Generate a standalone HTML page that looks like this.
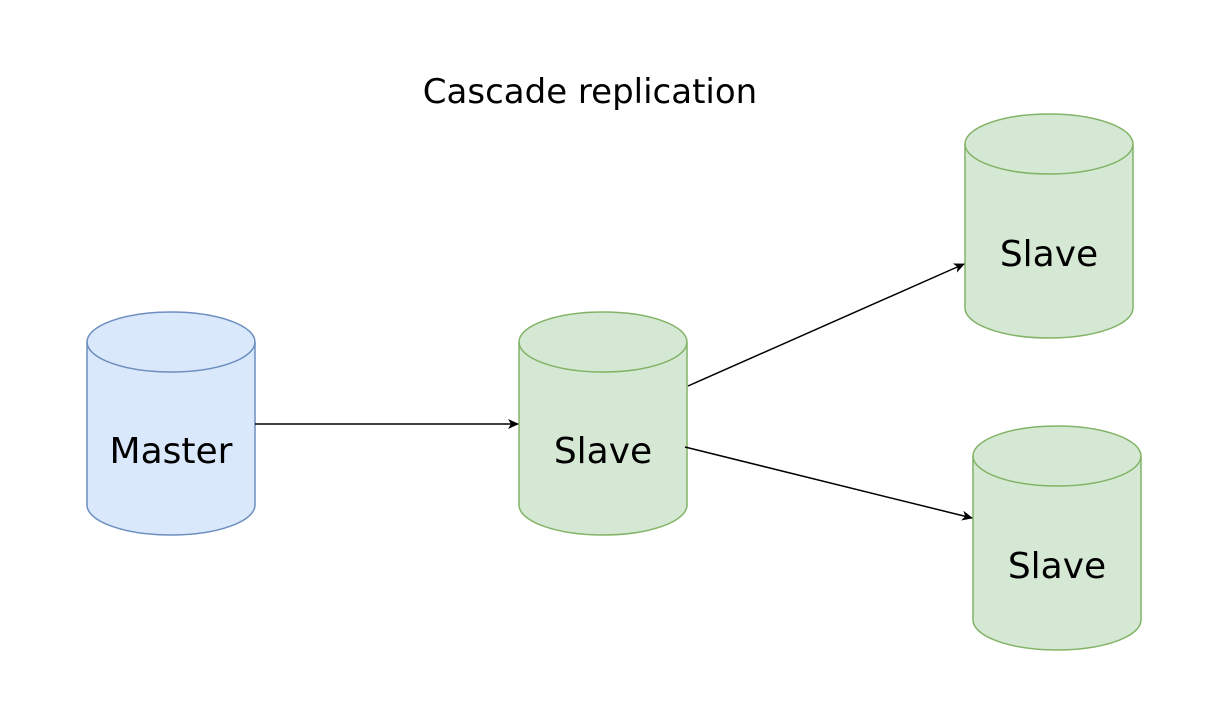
<!DOCTYPE html>
<html><head><meta charset="utf-8"><style>
html,body{margin:0;padding:0;background:#fff;}
svg{display:block;}
text{font-family:"Comic Sans MS","DejaVu Sans","Liberation Sans",sans-serif;fill:#000;}
</style></head><body>
<svg width="1210" height="708" viewBox="0 0 1210 708" xmlns="http://www.w3.org/2000/svg">
<defs>
<marker id="a" markerWidth="12" markerHeight="12" refX="10" refY="6" orient="auto" markerUnits="userSpaceOnUse">
<path d="M0,1 L11,6 L0,11 L3,6 Z" fill="#000"/>
</marker>
</defs>
<rect width="1210" height="708" fill="#fff"/>
<text x="590" y="103" font-size="34" text-anchor="middle">Cascade replication</text>

<g fill="#dae8fc" stroke="#6c8ebf" stroke-width="1.5">
<path d="M87,342 A84,30 0 0 1 255,342 L255,505 A84,30 0 0 1 87,505 Z"/>
<path d="M87,342 A84,30 0 0 0 255,342" fill="none"/>
</g>
<text x="171" y="463" font-size="36" text-anchor="middle">Master</text>

<g fill="#d5e8d4" stroke="#82b366" stroke-width="1.5">
<path d="M519,342 A84,30 0 0 1 687,342 L687,505 A84,30 0 0 1 519,505 Z"/>
<path d="M519,342 A84,30 0 0 0 687,342" fill="none"/>
<path d="M965,144 A84,30 0 0 1 1133,144 L1133,308 A84,30 0 0 1 965,308 Z"/>
<path d="M965,144 A84,30 0 0 0 1133,144" fill="none"/>
<path d="M973,456 A84,30 0 0 1 1141,456 L1141,620 A84,30 0 0 1 973,620 Z"/>
<path d="M973,456 A84,30 0 0 0 1141,456" fill="none"/>
</g>
<text x="603" y="463" font-size="36" text-anchor="middle">Slave</text>
<text x="1049" y="266" font-size="36" text-anchor="middle">Slave</text>
<text x="1057" y="578" font-size="36" text-anchor="middle">Slave</text>

<g stroke="#000" stroke-width="1.5" fill="none">
<line x1="255" y1="424" x2="518" y2="424" marker-end="url(#a)"/>
<line x1="688" y1="386" x2="964" y2="264" marker-end="url(#a)"/>
<line x1="685" y1="447" x2="972" y2="518" marker-end="url(#a)"/>
</g>
</svg>
</body></html>
